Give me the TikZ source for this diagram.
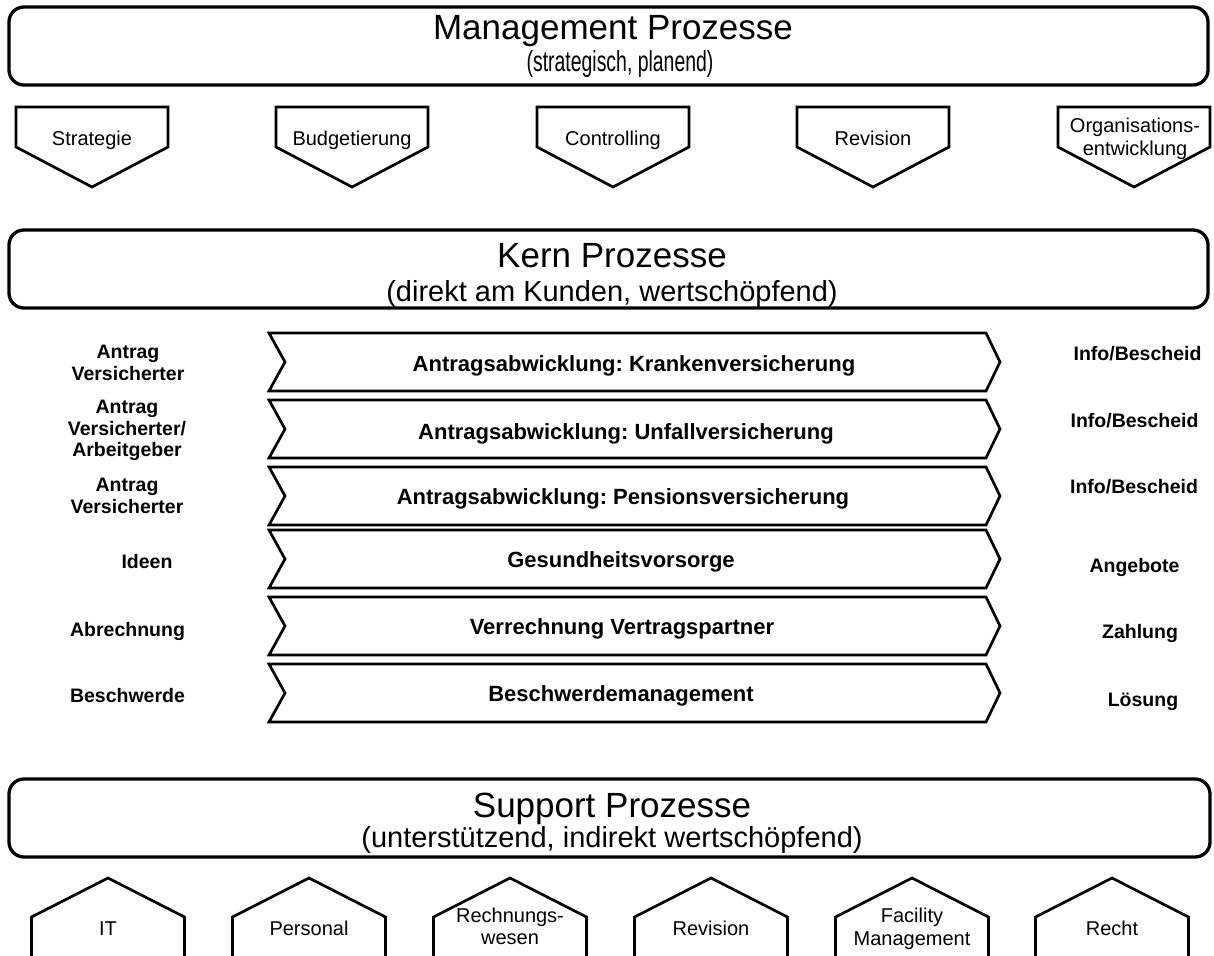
\documentclass[tikz,border=0pt]{standalone}
\usepackage{fontspec}
\setmainfont{Liberation Sans}
\frenchspacing
\begin{document}
\begin{tikzpicture}[x=1pt,y=-1pt,
  banner/.style={line width=3.3pt, rounded corners=15pt},
  shp/.style={line width=2.7pt, line join=miter, miter limit=10},
  ttl/.style={font=\fontsize{35}{42}\selectfont, anchor=base, inner sep=0pt},
  subt/.style={font=\fontsize{29}{34}\selectfont, anchor=base, inner sep=0pt},
  lbl/.style={font=\fontsize{20}{22.5}\selectfont, align=center, inner sep=0pt},
  ctr/.style={font=\bfseries\fontsize{22}{24}\selectfont, anchor=base, inner sep=0pt},
  side/.style={font=\bfseries\fontsize{19.5}{21.8}\selectfont, align=center, inner sep=0pt}]
\clip (0,0) rectangle (1214,955);
\fill[white] (0,0) rectangle (1214,955);

% Management banner
\draw[banner] (9,7) rectangle (1208,85);
\node[ttl] (mtitle) at (613,40) {Management Prozesse};
\node[subt] (msub) at (620,72) {\scalebox{0.67}[1]{(strategisch, planend)}};

% Management pentagons
\foreach \c/\n/\t in {92/strat/Strategie, 352/budg/Budgetierung, 613/contr/Controlling, 873/mrev/Revision}{
  \draw[shp] (\c-76,107) -- (\c+76,107) -- (\c+76,147) -- (\c,187) -- (\c-76,147) -- cycle;
  \node[lbl, anchor=base] (\n) at (\c,145) {\t};
}
\draw[shp] (1134-76,107) -- (1134+76,107) -- (1134+76,147) -- (1134,187) -- (1134-76,147) -- cycle;
\node[lbl] (org) at (1135,139) {Organisations-\\entwicklung};

% Kern banner
\draw[banner] (9,230) rectangle (1208,308);
\node[ttl] (ktitle) at (612,267) {Kern Prozesse};
\node[subt] (ksub) at (612,301) {(direkt am Kunden, wertschöpfend)};

% Chevrons
\foreach \t in {333,400,467,530,597,664}{
  \draw[shp] (269,\t) -- (986,\t) -- (1000,\t+29) -- (986,\t+58) -- (269,\t+58) -- (285,\t+29) -- cycle;
}
\node[ctr] (kv) at (634,371) {Antragsabwicklung: Krankenversicherung};
\node[ctr] (uv) at (626,439) {Antragsabwicklung: Unfallversicherung};
\node[ctr] (pv) at (623,504) {Antragsabwicklung: Pensionsversicherung};
\node[ctr] (gv) at (621,567) {Gesundheitsvorsorge};
\node[ctr] (vv) at (622,634) {Verrechnung Vertragspartner};
\node[ctr] (bm) at (621,701) {Beschwerdemanagement};

% Inputs
\node[side] (in1) at (128,362.5) {Antrag\\Versicherter};
\node[side] (in2) at (127,430.5) {Antrag\\Versicherter/\\Arbeitgeber};
\node[side] (in3) at (127,495.5) {Antrag\\Versicherter};
\node[side, anchor=base] (in4) at (147,568) {Ideen};
\node[side, anchor=base] (in5) at (127.5,636) {Abrechnung};
\node[side, anchor=base] (in6) at (127.5,702) {Beschwerde};

% Outputs
\node[side, anchor=base] (out1) at (1137.5,360) {Info/Bescheid};
\node[side, anchor=base] (out2) at (1134.5,427) {Info/Bescheid};
\node[side, anchor=base] (out3) at (1134,493) {Info/Bescheid};
\node[side, anchor=base] (out4) at (1134.5,572) {Angebote};
\node[side, anchor=base] (out5) at (1140,638) {Zahlung};
\node[side, anchor=base] (out6) at (1143,706) {Lösung};

% Support banner
\draw[banner] (9,779) rectangle (1210,857);
\node[ttl] (stitle) at (612,817) {Support Prozesse};
\node[subt] (ssub) at (612,847) {(unterstützend, indirekt wertschöpfend)};

% Support houses
\foreach \c in {108,309,510,711,912,1112}{
  \draw[shp] (\c-76.5,965) -- (\c-76.5,917) -- (\c,878) -- (\c+76.5,917) -- (\c+76.5,965);
}
\node[lbl, anchor=base] (it) at (108,935) {IT};
\node[lbl, anchor=base] (pers) at (309,935) {Personal};
\node[lbl] (rw) at (510,926.5) {Rechnungs-\\wesen};
\node[lbl, anchor=base] (srev) at (711,935) {Revision};
\node[lbl] (fm) at (912,929) {Facility\\Management};
\node[lbl, anchor=base] (recht) at (1112,935) {Recht};
\end{tikzpicture}
\end{document}
